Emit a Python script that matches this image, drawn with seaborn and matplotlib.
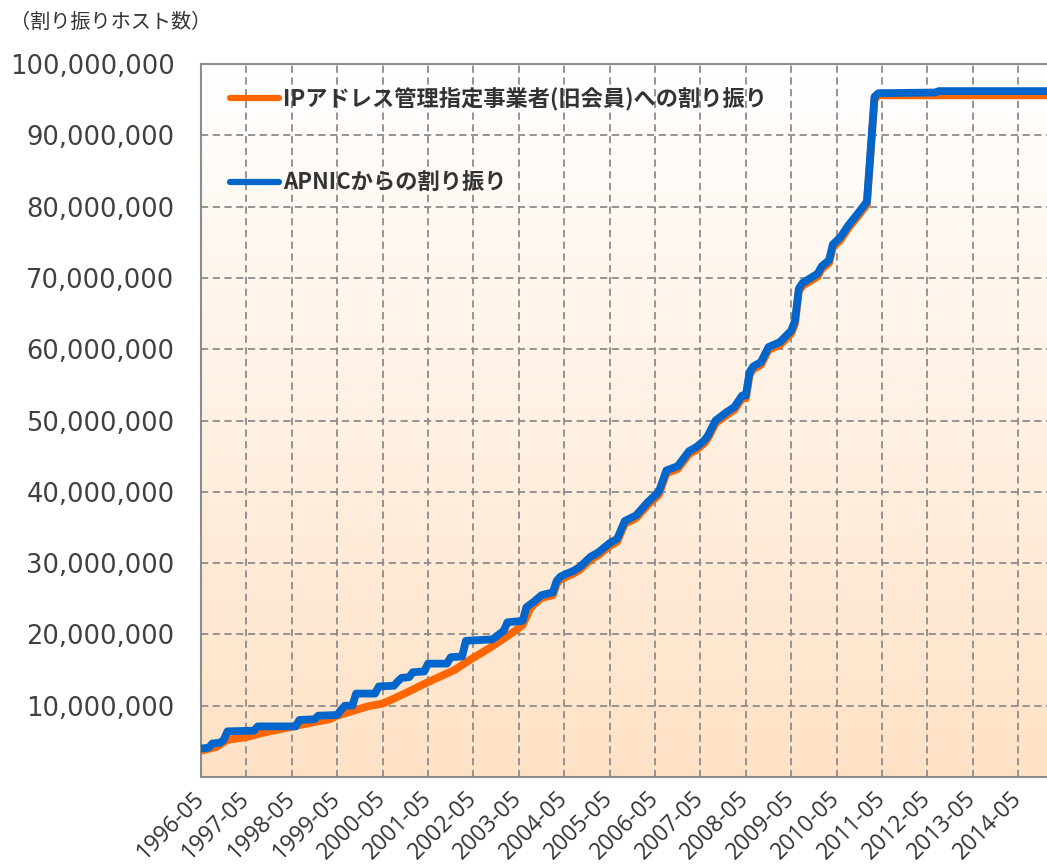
import numpy as np
import pandas as pd
import seaborn as sns
import matplotlib.pyplot as plt
from matplotlib.colors import LinearSegmentedColormap
from matplotlib.ticker import FixedLocator, StrMethodFormatter

# months counted from 1996-05, values in millions of hosts
jpnic_month = [0, 4, 7, 12, 16, 20, 24, 29, 34, 36, 41, 44, 48, 51, 55, 58, 62, 67, 71, 76,
               80, 83, 85, 87, 88, 90, 93, 94, 95, 97, 98, 100, 102, 103, 105, 108, 110, 112,
               115, 118, 121, 123, 126, 129, 131, 133, 134, 136, 139, 141, 143, 144, 145, 146,
               148, 150, 153, 156, 157, 158, 159, 163, 164, 166, 167, 169, 171, 174, 176, 178,
               179, 224]
jpnic_value = [3.7, 4.2, 5.2, 5.6, 6.15, 6.6, 7.05, 7.6, 8.1, 8.6, 9.4, 9.9, 10.3, 11.0, 12.0,
               12.8, 13.8, 15.0, 16.4, 18.0, 19.4, 20.5, 21.3, 23.6, 24.2, 25.1, 25.5, 27.1,
               27.7, 28.2, 28.4, 29.0, 30.0, 30.5, 31.1, 32.4, 33.0, 35.5, 36.3, 38.1, 39.6,
               42.6, 43.2, 45.3, 45.9, 46.8, 47.5, 49.6, 50.8, 51.5, 53.1, 53.1, 56.4, 57.2,
               57.8, 59.9, 60.6, 62.2, 63.6, 68.1, 68.9, 70.2, 71.2, 72.1, 74.3, 75.3, 76.9,
               78.9, 80.3, 95.0, 95.6, 95.6]

apnic_month = [0, 2, 3, 5, 6, 7, 14, 15, 25, 26, 30, 31, 36, 37, 38, 40, 41, 46, 47, 51, 52,
               53, 55, 56, 59, 60, 65, 66, 69, 70, 77, 78, 80, 81, 85, 86, 87, 88, 90, 93, 94,
               95, 97, 98, 100, 102, 103, 105, 108, 110, 112, 115, 118, 121, 123, 126, 129,
               131, 133, 134, 136, 139, 141, 143, 144, 145, 146, 148, 150, 153, 156, 157, 158,
               159, 163, 164, 166, 167, 169, 171, 174, 176, 178, 179, 194, 195, 224]
apnic_value = [4.0, 4.1, 4.7, 4.8, 5.2, 6.4, 6.5, 7.1, 7.1, 8.0, 8.1, 8.6, 8.7, 9.4, 10.0,
               10.0, 11.7, 11.7, 12.7, 12.8, 13.4, 13.9, 14.0, 14.7, 14.8, 15.9, 15.9, 16.8,
               16.9, 19.1, 19.3, 19.7, 20.5, 21.7, 21.9, 23.8, 24.2, 24.6, 25.5, 25.9, 27.5,
               28.1, 28.6, 28.8, 29.4, 30.4, 30.9, 31.5, 32.8, 33.4, 35.9, 36.7, 38.5, 40.0,
               43.0, 43.6, 45.7, 46.3, 47.2, 47.9, 50.0, 51.2, 51.9, 53.5, 53.5, 56.8, 57.6,
               58.2, 60.3, 61.0, 62.6, 64.0, 68.5, 69.3, 70.6, 71.6, 72.5, 74.7, 75.7, 77.3,
               79.3, 80.7, 95.4, 95.9, 96.0, 96.2, 96.2]

label_jpnic = 'IPアドレス管理指定事業者(旧会員)への割り振り'
label_apnic = 'APNICからの割り振り'
tick_labels = [f'{y}-05' for y in range(1996, 2015)]

df = pd.concat([
    pd.DataFrame({'month': jpnic_month, 'hosts': np.array(jpnic_value) * 1e6, 'series': label_jpnic}),
    pd.DataFrame({'month': apnic_month, 'hosts': np.array(apnic_value) * 1e6, 'series': label_apnic}),
], ignore_index=True)

sns.set_style('white')
plt.rcParams['font.family'] = ['Noto Sans CJK JP', 'DejaVu Sans']

fig = plt.figure(figsize=(10.47, 8.66), dpi=100)
ax = fig.add_axes([201 / 1047, 89 / 866, 846 / 1047, 713 / 866])

# peach gradient background
grad = np.linspace(0, 1, 256).reshape(-1, 1)
cmap = LinearSegmentedColormap.from_list('bg', ['#FFE2C6', '#FFFFFF'])
ax.imshow(grad, cmap=cmap, aspect='auto', extent=[0, 1, 0, 1], origin='lower',
          transform=ax.transAxes, zorder=0)

sns.lineplot(data=df, x='month', y='hosts', hue='series', hue_order=[label_jpnic, label_apnic],
             palette=['#FF6600', '#0066CC'], linewidth=5.6, estimator=None, ax=ax,
             solid_joinstyle='round', solid_capstyle='round', zorder=3)

ax.set_xlim(0, 223.6)
ax.set_ylim(0, 100e6)
ax.set_xlabel('')
ax.set_ylabel('')

ax.xaxis.set_major_locator(FixedLocator(range(0, 217, 12)))
ax.xaxis.set_minor_locator(FixedLocator(range(6, 224, 12)))
ax.set_xticklabels(tick_labels, rotation=45, ha='right', va='center', rotation_mode='anchor',
                   fontsize=16.5, color='#333333', family='Open Sans')
ax.yaxis.set_major_locator(FixedLocator(np.arange(10e6, 100.1e6, 10e6)))
ax.yaxis.set_major_formatter(StrMethodFormatter('{x:,.0f}'))
for t in ax.get_yticklabels():
    t.set_fontsize(18.5)
    t.set_color('#404040')
    t.set_family('DejaVu Sans')

ax.tick_params(axis='x', which='major', direction='out', length=5, width=1.5, color='#8c8c8c', pad=8)
ax.tick_params(axis='x', which='minor', direction='in', length=4, width=1.5, color='#8c8c8c')
ax.tick_params(axis='y', length=0, pad=19)

ax.grid(True, which='major', color='#8c8c8c', linestyle=(0, (4, 2.5)), linewidth=1.3)
ax.set_axisbelow(True)
for side in ['left', 'top', 'bottom']:
    ax.spines[side].set_color('#8c8c8c')
    ax.spines[side].set_linewidth(1.5)
    ax.spines[side].set_visible(True)
ax.spines['right'].set_visible(False)

handles, labels = ax.get_legend_handles_labels()
leg = ax.legend(handles, labels, loc='upper left', bbox_to_anchor=(0.034, 0.968), frameon=False,
                borderpad=0, borderaxespad=0, labelspacing=2.75, handlelength=2.2, handletextpad=0.2,
                prop={'family': ['Noto Sans CJK JP', 'DejaVu Sans'], 'weight': 'bold', 'size': 16})
for t in leg.get_texts():
    t.set_color('#333333')
for h in leg.get_lines():
    h.set_linewidth(4.5)
    h.set_solid_capstyle('round')

fig.text(10 / 1047, 1 - 22 / 866, '（割り振りホスト数）', fontsize=14.5, color='#333333', va='center', ha='left')

fig.savefig('out.png', dpi=100)
